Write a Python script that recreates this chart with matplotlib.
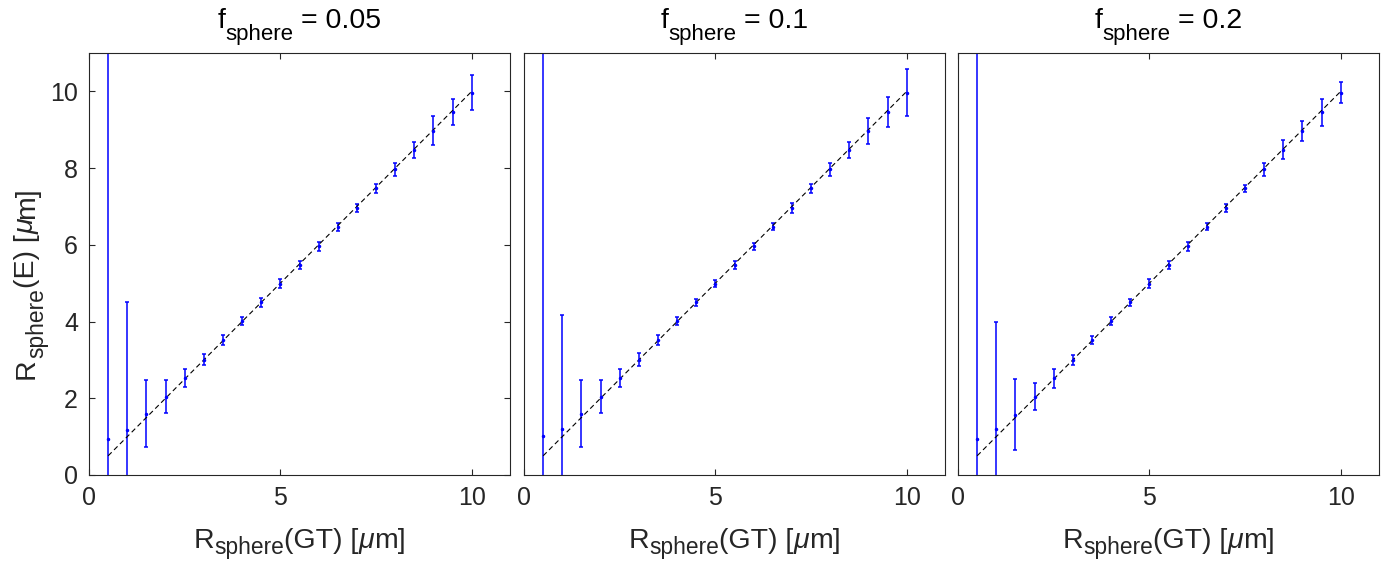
import matplotlib
matplotlib.use("Agg")
import matplotlib.pyplot as plt
from matplotlib.transforms import IdentityTransform

plt.rcParams['font.family'] = ['Liberation Sans', 'DejaVu Sans']

# data
r_gt = [0.5, 1.0, 1.5, 2.0, 2.5, 3.0, 3.5, 4.0, 4.5, 5.0,
        5.5, 6.0, 6.5, 7.0, 7.5, 8.0, 8.5, 9.0, 9.5, 10.0]
f_values = ['0.05', '0.1', '0.2']

mean_005 = [0.94, 1.17, 1.60, 2.04, 2.53, 3.01, 3.52, 4.01, 4.50, 4.99,
            5.47, 5.96, 6.47, 6.96, 7.47, 7.97, 8.48, 8.97, 9.46, 9.97]
err_005 = [12.0, 3.34, 0.88, 0.43, 0.24, 0.15, 0.12, 0.11, 0.11, 0.11,
           0.11, 0.11, 0.11, 0.11, 0.11, 0.17, 0.21, 0.38, 0.33, 0.45]

mean_01 = [1.02, 1.20, 1.60, 2.04, 2.53, 3.01, 3.52, 4.01, 4.50, 4.99,
           5.47, 5.96, 6.47, 6.96, 7.47, 7.97, 8.47, 8.97, 9.46, 9.97]
err_01 = [12.0, 2.97, 0.87, 0.43, 0.24, 0.16, 0.12, 0.11, 0.10, 0.10,
          0.11, 0.10, 0.09, 0.12, 0.11, 0.17, 0.21, 0.33, 0.40, 0.60]

mean_02 = [0.95, 1.20, 1.57, 2.04, 2.52, 3.00, 3.52, 4.01, 4.50, 4.99,
           5.47, 5.96, 6.47, 6.96, 7.47, 7.97, 8.48, 8.97, 9.46, 9.97]
err_02 = [12.0, 2.78, 0.92, 0.35, 0.24, 0.14, 0.10, 0.11, 0.10, 0.11,
          0.11, 0.11, 0.09, 0.11, 0.10, 0.17, 0.24, 0.26, 0.35, 0.27]

means = [mean_005, mean_01, mean_02]
errs = [err_005, err_01, err_02]

W, H = 1394, 565
fig = plt.figure(figsize=(W / 100, H / 100), dpi=100)
renderer = fig.canvas.get_renderer()
TXT = '#262626'


def text_width(s, size, style='normal'):
    t = fig.text(0, 0, s, fontsize=size, style=style, transform=IdentityTransform())
    w = t.get_window_extent(renderer).width
    t.remove()
    return w


def rich_text(parts, x, y, size, sub_scale, drop, rotation=0, color=TXT):
    """parts: list of (text, kind) kind in {'n','s','i'}; (x, y) display px;
    x,y is centre along text direction and main baseline."""
    space_w = text_width('a a', size) - text_width('aa', size)
    items = []
    total = 0.0
    for s, kind in parts:
        fs = size * sub_scale if kind == 's' else size
        style = 'italic' if kind == 'i' else 'normal'
        lead = 0.0
        core = s
        while core.startswith(' '):
            lead += space_w
            core = core[1:]
        w = text_width(core, fs, style)
        items.append((core, fs, style, lead, w, kind))
        total += lead + w
    cur = -total / 2.0
    for core, fs, style, lead, w, kind in items:
        cur += lead
        d = drop if kind == 's' else 0.0
        if rotation == 0:
            px, py = x + cur, y - d
        else:
            px, py = x + d, y + cur
        fig.text(px, py, core, fontsize=fs, style=style, color=color,
                 ha='left', va='baseline', rotation=rotation,
                 rotation_mode='anchor', transform=IdentityTransform())
        cur += w


lefts = [89, 524, 958]
ax_w = 421
ax_top = 53
ax_bot = 475

for i, (m, e, f) in enumerate(zip(means, errs, f_values)):
    ax = fig.add_axes([lefts[i] / W, (H - ax_bot) / H, ax_w / W, (ax_bot - ax_top) / H])
    ax.errorbar(r_gt, m, yerr=e, fmt='.', color='#0000ff', ecolor='#0000ff',
                markersize=3, elinewidth=1.1, capsize=1.6, capthick=1.1)
    ax.plot([r_gt[0], r_gt[-1]], [r_gt[0], r_gt[-1]], color='black',
            linestyle=(0, (4.5, 3.0)), linewidth=0.8)
    ax.set_xlim(0, 11)
    ax.set_ylim(0, 11)
    ax.set_xticks([0, 5, 10])
    ax.set_xticklabels(['0', '5', '10'])
    for sp in ax.spines.values():
        sp.set_color(TXT)
        sp.set_linewidth(0.8)
    ax.tick_params(axis='both', direction='in', length=4, width=0.8,
                   colors=TXT, labelsize=18, labelcolor=TXT,
                   top=True, pad=8)
    if i == 0:
        ax.set_yticks([0, 2, 4, 6, 8, 10])
        ax.tick_params(axis='y', right=True)
    else:
        ax.set_yticks([])

    cx = lefts[i] + ax_w / 2.0
    # title
    rich_text([('f', 'n'), ('sphere', 's'), (' = ' + f, 'n')],
              cx, H - 28, size=20.5, sub_scale=0.78, drop=12, color='black')
    # x label
    rich_text([('R', 'n'), ('sphere', 's'), ('(GT) [', 'n'), ('\u03bc', 'i'), ('m]', 'n')],
              cx, H - 548, size=20.5, sub_scale=0.8, drop=6)

# y label
rich_text([('R', 'n'), ('sphere', 's'), ('(E) [', 'n'), ('\u03bc', 'i'), ('m]', 'n')],
          34, H - 283, size=20.5, sub_scale=0.8, drop=9,
          rotation=90)

fig.savefig('out.png', dpi=100)
